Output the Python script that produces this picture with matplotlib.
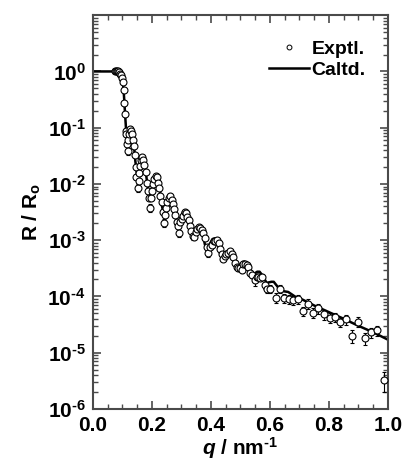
"""Reflectivity profile: experimental vs calculated R/R0."""

import matplotlib

matplotlib.use("Agg")
import matplotlib.pyplot as plt
import numpy as np
from matplotlib.ticker import LogLocator, MultipleLocator

# calculated curve
q_calc = [0.000, 0.080, 0.090, 0.097, 0.102, 0.106, 0.110, 0.114, 0.119, 0.124,
          0.131, 0.138, 0.144, 0.150, 0.157, 0.163, 0.170, 0.177, 0.186, 0.193,
          0.200, 0.208, 0.217, 0.225, 0.234, 0.241, 0.249, 0.257, 0.265, 0.273,
          0.282, 0.289, 0.297, 0.305, 0.313, 0.321, 0.330, 0.338, 0.346, 0.354,
          0.362, 0.371, 0.380, 0.388, 0.397, 0.406, 0.414, 0.423, 0.432, 0.440,
          0.448, 0.457, 0.465, 0.474, 0.482, 0.490, 0.498, 0.507, 0.515, 0.524,
          0.532, 0.540, 0.549, 0.557, 0.565, 0.574, 0.589, 0.605, 0.613, 0.637,
          0.662, 0.687, 0.712, 0.750, 0.800, 0.850, 0.900, 0.950, 1.000]
r_calc = [1.0, 1.0, 0.98, 0.87, 0.66, 0.355, 0.158, 7.6e-2, 4.47e-2, 6.3e-2,
          8.9e-2, 6.0e-2, 2.63e-2, 1.41e-2, 1.9e-2, 2.7e-2, 2.95e-2, 2.1e-2, 8.9e-3, 6.0e-3,
          8.3e-3, 1.2e-2, 1.32e-2, 9.5e-3, 4.17e-3, 2.75e-3, 4.0e-3, 5.75e-3, 6.3e-3, 4.8e-3,
          2.4e-3, 1.74e-3, 2.4e-3, 3.16e-3, 3.4e-3, 2.7e-3, 1.38e-3, 1.05e-3, 1.38e-3, 1.7e-3,
          1.78e-3, 1.41e-3, 8.3e-4, 6.6e-4, 8.7e-4, 1.05e-3, 1.07e-3, 8.9e-4, 5.5e-4, 4.57e-4,
          5.5e-4, 6.3e-4, 6.45e-4, 5.5e-4, 3.55e-4, 3.1e-4, 3.63e-4, 4.07e-4, 4.17e-4, 3.63e-4,
          2.63e-4, 2.4e-4, 2.57e-4, 2.75e-4, 2.75e-4, 2.4e-4, 1.74e-4, 1.82e-4, 1.82e-4, 1.26e-4,
          1.2e-4, 9.8e-5, 8.7e-5, 6.9e-5, 5.25e-5, 4.0e-5, 3.0e-5, 2.3e-5, 1.7e-5]

# experimental points
q_exp = [0.075, 0.080, 0.083, 0.087, 0.090, 0.093, 0.096, 0.100, 0.103, 0.105,
         0.107, 0.109, 0.112, 0.114, 0.116, 0.118, 0.121, 0.124, 0.127, 0.130,
         0.133, 0.136, 0.139, 0.142, 0.145, 0.148, 0.152, 0.155, 0.158, 0.161,
         0.164, 0.167, 0.171, 0.175, 0.179, 0.183, 0.187, 0.190, 0.194, 0.198,
         0.201, 0.205, 0.209, 0.213, 0.217, 0.221, 0.225, 0.229, 0.233, 0.237,
         0.241, 0.245, 0.249, 0.253, 0.258, 0.262, 0.267, 0.271, 0.275, 0.279,
         0.284, 0.288, 0.292, 0.297, 0.301, 0.306, 0.311, 0.316, 0.320, 0.325,
         0.329, 0.334, 0.339, 0.344, 0.349, 0.354, 0.359, 0.364, 0.369, 0.374,
         0.380, 0.386, 0.391, 0.397, 0.403, 0.409, 0.414, 0.420, 0.426, 0.431,
         0.437, 0.442, 0.448, 0.453, 0.459, 0.465, 0.471, 0.476, 0.482, 0.487,
         0.493, 0.499, 0.505, 0.510, 0.516, 0.521, 0.527, 0.533, 0.538, 0.549,
         0.555, 0.560, 0.568, 0.574, 0.582, 0.589, 0.602, 0.619, 0.634, 0.648,
         0.664, 0.679, 0.696, 0.713, 0.730, 0.747, 0.763, 0.783, 0.803, 0.820,
         0.839, 0.857, 0.879, 0.899, 0.921, 0.944, 0.963, 0.986]
r_exp = [1.02, 1.02, 1.03, 1.0, 0.98, 0.91, 0.85, 0.76, 0.65, 0.46,
         0.28, 0.178, 8.9e-2, 7.6e-2, 5.2e-2, 3.8e-2, 6.0e-2, 7.6e-2, 9.5e-2, 8.9e-2,
         7.6e-2, 6.0e-2, 4.7e-2, 3.3e-2, 2.0e-2, 1.32e-2, 8.5e-3, 1.12e-2, 1.58e-2, 2.1e-2,
         2.63e-2, 3.0e-2, 2.63e-2, 2.14e-2, 1.66e-2, 1.05e-2, 7.6e-3, 5.6e-3, 3.8e-3, 5.6e-3,
         7.6e-3, 1.0e-2, 1.2e-2, 1.38e-2, 1.32e-2, 1.05e-2, 8.3e-3, 6.0e-3, 4.8e-3, 3.16e-3,
         2.04e-3, 2.8e-3, 3.8e-3, 4.8e-3, 5.6e-3, 6.0e-3, 5.25e-3, 4.37e-3, 3.55e-3, 2.8e-3,
         2.1e-3, 1.82e-3, 1.32e-3, 2.1e-3, 2.34e-3, 2.7e-3, 3.16e-3, 3.0e-3, 2.63e-3, 2.3e-3,
         1.82e-3, 1.45e-3, 1.2e-3, 1.15e-3, 1.38e-3, 1.58e-3, 1.7e-3, 1.66e-3, 1.5e-3, 1.32e-3,
         1.1e-3, 7.6e-4, 6.0e-4, 7.6e-4, 8.3e-4, 9.5e-4, 9.5e-4, 1.02e-3, 8.9e-4, 7.1e-4,
         5.6e-4, 4.7e-4, 5.25e-4, 5.75e-4, 6.0e-4, 6.45e-4, 5.75e-4, 5.1e-4, 4.0e-4, 3.3e-4,
         3.16e-4, 3.24e-4, 3.0e-4, 3.8e-4, 3.8e-4, 3.55e-4, 3.4e-4, 2.63e-4, 2.45e-4, 1.95e-4,
         2.2e-4, 2.24e-4, 2.14e-4, 2.2e-4, 1.58e-4, 1.38e-4, 1.38e-4, 9.5e-5, 1.38e-4, 9.3e-5,
         8.9e-5, 8.5e-5, 9.1e-5, 5.5e-5, 7.4e-5, 5.1e-5, 6.2e-5, 4.8e-5, 4.2e-5, 4.3e-5,
         3.55e-5, 3.9e-5, 2.0e-5, 3.55e-5, 1.8e-5, 2.3e-5, 2.5e-5, 3.3e-6]
# relative error of each experimental point
rel_err = [0.02, 0.02, 0.02, 0.02, 0.02, 0.02, 0.02, 0.02, 0.02, 0.02,
           0.02, 0.02, 0.02, 0.02, 0.02, 0.15, 0.03, 0.03, 0.03, 0.03,
           0.03, 0.03, 0.03, 0.03, 0.03, 0.03, 0.15, 0.04, 0.04, 0.04,
           0.04, 0.04, 0.04, 0.04, 0.04, 0.04, 0.04, 0.04, 0.15, 0.05,
           0.05, 0.05, 0.05, 0.05, 0.05, 0.05, 0.05, 0.05, 0.05, 0.05,
           0.15, 0.06, 0.06, 0.06, 0.06, 0.06, 0.06, 0.06, 0.06, 0.06,
           0.06, 0.06, 0.15, 0.06, 0.06, 0.06, 0.06, 0.06, 0.06, 0.06,
           0.07, 0.07, 0.15, 0.07, 0.07, 0.07, 0.07, 0.07, 0.07, 0.07,
           0.08, 0.10, 0.15, 0.08, 0.08, 0.08, 0.08, 0.08, 0.08, 0.08,
           0.10, 0.10, 0.10, 0.10, 0.10, 0.10, 0.10, 0.10, 0.10, 0.10,
           0.12, 0.12, 0.12, 0.12, 0.12, 0.12, 0.12, 0.12, 0.12, 0.20,
           0.12, 0.12, 0.12, 0.12, 0.15, 0.15, 0.15, 0.20, 0.15, 0.18,
           0.18, 0.18, 0.18, 0.20, 0.20, 0.20, 0.20, 0.20, 0.20, 0.20,
           0.20, 0.20, 0.25, 0.20, 0.25, 0.20, 0.20, 0.40]

y_tick_vals = [1e-6, 1e-5, 1e-4, 1e-3, 1e-2, 1e-1, 1e0]
y_tick_exps = ["-6", "-5", "-4", "-3", "-2", "-1", "0"]

plt.rcParams.update({
    "font.family": "Liberation Sans",
    "font.weight": "bold",
    "axes.labelweight": "bold",
    "mathtext.fontset": "custom",
    "mathtext.rm": "Liberation Sans:bold",
    "mathtext.bf": "Liberation Sans:bold",
    "mathtext.it": "Liberation Sans:italic:bold",
    "mathtext.default": "rm",
    "axes.unicode_minus": False,
})


def sup(exp):
    # hyphen instead of the wide math minus
    return exp.replace("-", r"\text{-}")


fig = plt.figure(figsize=(4.05, 4.61), dpi=100)
ax = fig.add_axes([0.229, 0.113, 0.729, 0.854])

q_e = np.array(q_exp)
r_e = np.array(r_exp)
yerr = r_e * np.array(rel_err)

ax.plot(q_calc, r_calc, color="black", linewidth=1.8, zorder=2)
ax.errorbar(q_e, r_e, yerr=yerr, fmt="o", markersize=5, markerfacecolor="white",
            markeredgecolor="black", markeredgewidth=0.8, ecolor="black",
            elinewidth=0.8, capsize=1.5, capthick=0.8, zorder=3)

ax.set_yscale("log")
ax.set_xlim(0.0, 1.0)
ax.set_ylim(1e-6, 1e1)
ax.xaxis.set_major_locator(MultipleLocator(0.2))
ax.xaxis.set_minor_locator(MultipleLocator(0.05))
ax.yaxis.set_minor_locator(LogLocator(base=10, subs=np.arange(2, 10), numticks=20))
ax.set_yticks(y_tick_vals)
ax.set_yticklabels([rf"$10^{{{sup(e)}}}$" for e in y_tick_exps])
ax.set_xticks(ax.get_xticks())
ax.set_xticklabels([f"{v:.1f}" for v in ax.get_xticks()])
ax.set_xlim(0.0, 1.0)

edge = "#4a4a4a"
for s in ax.spines.values():
    s.set_color(edge)
    s.set_linewidth(1.5)
ax.tick_params(which="both", direction="in", top=True, right=True, color=edge)
ax.tick_params(which="major", length=6, width=1.2, labelsize=15, pad=5)
ax.tick_params(axis="x", which="major", pad=5)
ax.tick_params(which="minor", length=3.5, width=1.0)

ax.set_xlabel(r"$\mathit{q}$ / nm$^{\text{-}1}$", fontsize=15, labelpad=0)
ax.set_ylabel(r"R / R$_{\rm o}$", fontsize=15, labelpad=3)

exp_handle = plt.Line2D([], [], linestyle="none", marker="o", markersize=3.5,
                        markerfacecolor="white", markeredgecolor="black",
                        markeredgewidth=0.7)
line_handle = plt.Line2D([], [], color="black", linewidth=1.8)
ax.legend([exp_handle, line_handle], ["Exptl.", "Caltd."], loc="upper right",
          frameon=False, fontsize=14, handlelength=2.1, handletextpad=0.1,
          labelspacing=0.15, borderaxespad=0.3, bbox_to_anchor=(0.97, 0.97))

fig.savefig("out.png", dpi=100, facecolor="white")
plt.close(fig)
